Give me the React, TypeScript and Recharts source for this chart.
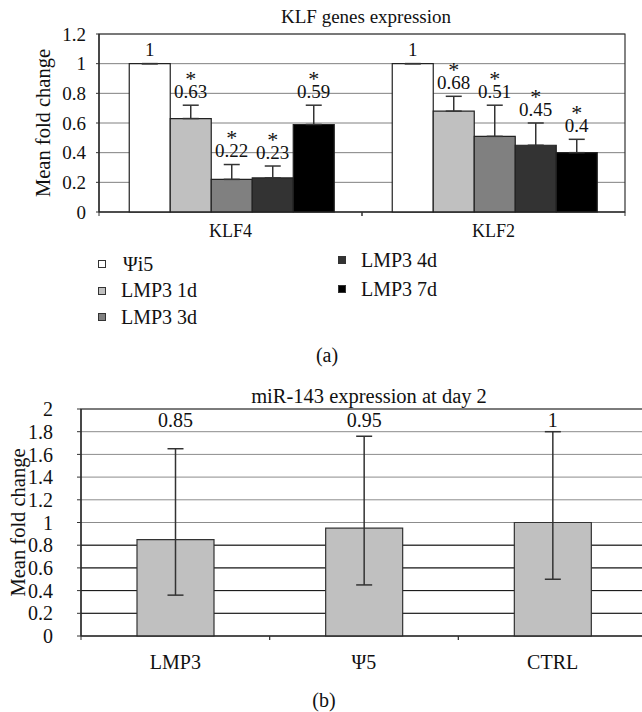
import React from 'react';
import {
  BarChart,
  Bar,
  XAxis,
  YAxis,
  CartesianGrid,
  ErrorBar,
  LabelList,
  Legend,
  ReferenceArea,
} from 'recharts';

// ---------- Panel (a) data ----------
const genes = ['KLF4', 'KLF2'];
const seriesNames = ['Ψi5', 'LMP3 1d', 'LMP3 3d', 'LMP3 4d', 'LMP3 7d'];
const seriesKeys = ['psi', 'd1', 'd3', 'd4', 'd7'];
const seriesColors = ['#ffffff', '#c0c0c0', '#808080', '#333333', '#000000'];
const psiValues = [1, 1];
const d1Values = [0.63, 0.68];
const d3Values = [0.22, 0.51];
const d4Values = [0.23, 0.45];
const d7Values = [0.59, 0.4];
const psiErr = [0, 0];
const d1Err = [0.09, 0.1];
const d3Err = [0.1, 0.21];
const d4Err = [0.08, 0.15];
const d7Err = [0.13, 0.09];
const seriesSig = [false, true, true, true, true];
const topTicks = [0, 0.2, 0.4, 0.6, 0.8, 1, 1.2];

// ---------- Panel (b) data ----------
const groups = ['LMP3', 'Ψ5', 'CTRL'];
const mirValues = [0.85, 0.95, 1];
const mirErrLow = [0.49, 0.5, 0.5];
const mirErrHigh = [0.8, 0.81, 0.8];
const bottomTicks = [0, 0.2, 0.4, 0.6, 0.8, 1, 1.2, 1.4, 1.6, 1.8, 2];
const bottomDarkGrid = [0.2, 0.4, 0.6, 0.8];

const seriesValues = [psiValues, d1Values, d3Values, d4Values, d7Values];
const seriesErrs = [psiErr, d1Err, d3Err, d4Err, d7Err];

const klfData = genes.map((g, i) => {
  const row: any = { gene: g };
  seriesKeys.forEach((k, s) => {
    row[k] = seriesValues[s][i];
    row[k + 'Err'] = [0, seriesErrs[s][i]];
  });
  return row;
});

const mirData = groups.map((g, i) => ({
  group: g,
  value: mirValues[i],
  err: [mirErrLow[i], mirErrHigh[i]],
}));

const FONT = "Liberation Serif, Tinos, Times New Roman, Times, DejaVu Serif, serif";
const INK = '#111';

const YLabel = (props: any) => {
  const { viewBox, cx, text, fs } = props;
  const vb = viewBox || {};
  const cy = Number(vb.y) + Number(vb.height) / 2;
  return (
    <text
      x={cx}
      y={cy}
      transform={`rotate(-90 ${cx} ${cy})`}
      textAnchor="middle"
      dominantBaseline="central"
      fontSize={fs}
      style={{ fontFamily: FONT }}
      fill={INK}
    >
      {text}
    </text>
  );
};

const XTick = (props: any) => {
  const { x, y, payload, width, visibleTicksCount, fs, dy } = props;
  const band = Number(width) / Number(visibleTicksCount || 1);
  return (
    <g>
      {isFinite(band) && (
        <>
          <line x1={x - band / 2} x2={x - band / 2} y1={y} y2={y + 4} stroke="#333" strokeWidth={1} />
          <line x1={x + band / 2} x2={x + band / 2} y1={y} y2={y + 4} stroke="#333" strokeWidth={1} />
        </>
      )}
      <text x={x} y={y + dy} textAnchor="middle" fontSize={fs} style={{ fontFamily: FONT }} fill={INK}>
        {payload.value}
      </text>
    </g>
  );
};

const makeTopLabel = (s: number) => (props: any) => {
  const { x, y, width, height, value, index } = props;
  const v = Number(value);
  const h = Number(height);
  const ppu = v ? h / v : 0;
  const errTop = Number(y) - seriesErrs[s][index] * ppu;
  const cx = Number(x) + Number(width) / 2;
  return (
    <g>
      <text x={cx} y={errTop - 7.5} textAnchor="middle" fontSize={19} style={{ fontFamily: FONT }} fill={INK}>
        {String(v)}
      </text>
      {seriesSig[s] && (
        <text x={cx} y={errTop - 19.5} textAnchor="middle" fontSize={22} style={{ fontFamily: FONT }} fill={INK}>
          *
        </text>
      )}
    </g>
  );
};

const LABEL_LEVEL = 1.9;
const mirLabel = (props: any) => {
  const { x, y, width, height, value } = props;
  const v = Number(value);
  const h = Number(height);
  const ppu = v ? h / v : 0;
  const bottom = Number(y) + h;
  const cy = bottom - LABEL_LEVEL * ppu;
  const cx = Number(x) + Number(width) / 2;
  return (
    <text x={cx} y={cy + 6.8} textAnchor="middle" fontSize={20} style={{ fontFamily: FONT }} fill={INK}>
      {String(v)}
    </text>
  );
};

const legendSlots = [
  { left: 98, top: 264 },
  { left: 98, top: 290.5 },
  { left: 98, top: 317 },
  { left: 338, top: 260 },
  { left: 338, top: 289 },
];

const renderLegend = (props: any) => {
  const payload = props.payload || [];
  return (
    <div style={{ position: 'relative', width: 642, height: 0 }}>
      {payload.map((p: any, i: number) => {
        const idx = seriesNames.indexOf(p.value);
        const slot = legendSlots[idx >= 0 ? idx : i];
        return (
          <div
            key={p.value}
            style={{
              position: 'absolute',
              left: slot.left,
              top: slot.top - 12,
              height: 24,
              display: 'flex',
              alignItems: 'center',
              whiteSpace: 'nowrap',
              fontFamily: FONT,
              fontSize: 20,
              color: INK,
            }}
          >
            <span
              style={{
                display: 'inline-block',
                width: 6,
                height: 6,
                border: '1px solid #333',
                background: p.color,
                marginRight: idx === 0 ? 17 : 15,
              }}
            />
            <span>{p.value}</span>
          </div>
        );
      })}
    </div>
  );
};

const Caption = ({ cx, cy, fs, text }: any) => (
  <div
    style={{
      position: 'absolute',
      left: cx - 250,
      width: 500,
      top: cy - fs * 0.6,
      lineHeight: `${fs * 1.2}px`,
      textAlign: 'center',
      fontFamily: FONT,
      fontSize: fs,
      color: INK,
      whiteSpace: 'nowrap',
    }}
  >
    {text}
  </div>
);

export default function App() {
  return (
    <div
      style={{
        position: 'absolute',
        left: 0,
        top: 0,
        width: 642,
        height: 712,
        background: '#fff',
        overflow: 'hidden',
        fontFamily: FONT,
      }}
    >
      {/* Panel (a) */}
      <div style={{ position: 'absolute', left: 0, top: 0 }}>
        <BarChart
          width={642}
          height={340}
          data={klfData}
          margin={{ top: 34, right: 17, left: 0, bottom: 88 }}
          barCategoryGap="11.5%"
          barGap={0}
          style={{ fontFamily: FONT }}
        >
          <CartesianGrid vertical={false} stroke="#808080" strokeWidth={1} />
          <ReferenceArea y1={0} y2={1.2} fill="none" stroke="#333" strokeWidth={1.2} />
          <XAxis
            dataKey="gene"
            height={40}
            interval={0}
            tickSize={0}
            tickMargin={0}
            tickLine={false}
            axisLine={{ stroke: '#222', strokeWidth: 1.2 }}
            tick={<XTick fs={18} dy={25} />}
          />
          <YAxis
            width={99}
            domain={[0, 1.2]}
            ticks={topTicks}
            interval={0}
            tickSize={3}
            tickMargin={10}
            tickLine={{ stroke: '#333' }}
            axisLine={{ stroke: '#222', strokeWidth: 1.2 }}
            tick={{ fontSize: 19, fontFamily: FONT, fill: INK }}
            label={<YLabel cx={43} text="Mean fold change" fs={20.5} />}
          />
          <Legend
            layout="horizontal"
            verticalAlign="middle"
            align="center"
            content={renderLegend}
            wrapperStyle={{ position: 'absolute', top: 0, left: 0, width: 642, height: 0 }}
          />
          {seriesKeys.map((k, s) => (
            <Bar
              key={k}
              dataKey={k}
              name={seriesNames[s]}
              fill={seriesColors[s]}
              stroke="#222"
              strokeWidth={1.2}
              isAnimationActive={false}
            >
              <ErrorBar dataKey={k + 'Err'} width={8} stroke="#333" strokeWidth={1.5} direction="y" />
              <LabelList dataKey={k} content={makeTopLabel(s)} />
            </Bar>
          ))}
        </BarChart>
      </div>
      <Caption cx={366} cy={17} fs={19} text="KLF genes expression" />
      <Caption cx={327} cy={355} fs={20} text="(a)" />

      {/* Panel (b) */}
      <div style={{ position: 'absolute', left: 0, top: 380 }}>
        <BarChart
          width={650}
          height={300}
          data={mirData}
          margin={{ top: 29, right: 3, left: 0, bottom: 4 }}
          barSize={77}
          style={{ fontFamily: FONT }}
        >
          <CartesianGrid vertical={false} stroke="#8c8c8c" strokeWidth={1} />
          <CartesianGrid vertical={false} stroke="#111" strokeWidth={1} horizontalValues={bottomDarkGrid} />
          <ReferenceArea y1={0} y2={2} fill="none" stroke="#333" strokeWidth={1.2} />
          <XAxis
            dataKey="group"
            height={40}
            interval={0}
            tickSize={0}
            tickMargin={0}
            tickLine={false}
            axisLine={{ stroke: '#222', strokeWidth: 1.2 }}
            tick={<XTick fs={20} dy={33} />}
          />
          <YAxis
            width={81}
            domain={[0, 2]}
            ticks={bottomTicks}
            interval={0}
            tickSize={4}
            tickMargin={24}
            tickLine={{ stroke: '#333' }}
            axisLine={{ stroke: '#222', strokeWidth: 1.2 }}
            tick={{ fontSize: 20, fontFamily: FONT, fill: INK }}
            label={<YLabel cx={18} text="Mean fold change" fs={20.5} />}
          />
          <Bar dataKey="value" fill="#c0c0c0" stroke="#333" strokeWidth={1.2} isAnimationActive={false}>
            <ErrorBar dataKey="err" width={8} stroke="#333" strokeWidth={1.5} direction="y" />
            <LabelList dataKey="value" content={mirLabel} />
          </Bar>
        </BarChart>
      </div>
      <Caption cx={369} cy={396} fs={20.5} text="miR-143 expression at day 2" />
      <Caption cx={324} cy={700} fs={20} text="(b)" />
    </div>
  );
}
